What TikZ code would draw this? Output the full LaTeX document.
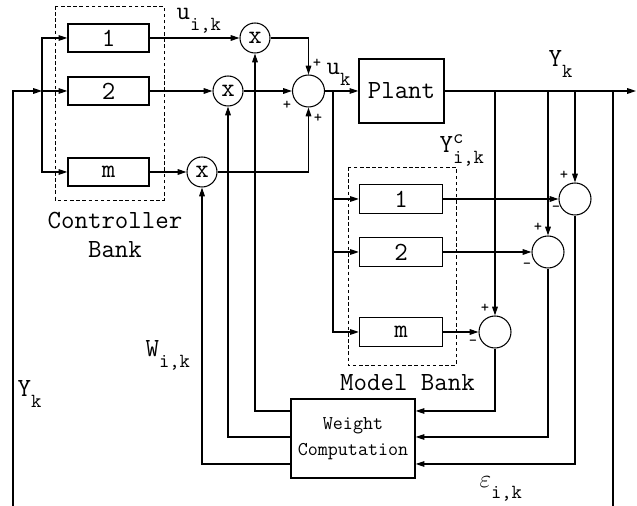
\documentclass[tikz,border=0pt]{standalone}
\usepackage{fontspec}
\usepackage{tikz}
\usetikzlibrary{arrows.meta}

\newcommand{\lbsub}[2]{#1\raisebox{-6pt}{\fontsize{11.4}{11.4}\selectfont #2}}
\newcommand{\lbsupsub}[3]{#1\rlap{\raisebox{5.5pt}{\fontsize{11.4}{11.4}\selectfont #2}}\raisebox{-6pt}{\fontsize{11.4}{11.4}\selectfont #3}}

\begin{document}
\begin{tikzpicture}[x=0.02cm, y=-0.02cm, line width=0.6pt,
    >={Triangle[length=5pt,width=3.2pt]},
    font=\ttfamily\fontsize{14.9}{16.7}\selectfont,
    blk/.style={draw, line width=0.8pt, inner sep=0pt},
    ctrl/.style={blk, minimum width=1.62cm, minimum height=0.56cm},
    model/.style={blk, minimum width=1.66cm, minimum height=0.58cm},
    mult/.style={draw, circle, minimum size=0.6cm, inner sep=0pt},
    summ/.style={draw, circle, minimum size=0.64cm, inner sep=0pt},
    bank/.style={draw, line width=0.5pt, dash pattern=on 2pt off 1.5pt},
    sgn/.style={inner sep=0pt, font=\ttfamily\fontsize{9}{9}\selectfont},
    lbl/.style={inner sep=0pt, anchor=base west}]

    \useasboundingbox (0,0) rectangle (637,506);

    % controller bank
    \draw[bank] (55,6) rectangle (164,200);
    \node[ctrl] (c1) at (108.5,38) {1};
    \node[ctrl] (c2) at (108.5,91) {2};
    \node[ctrl] (cm) at (108.5,172) {m};
    \node[align=center] (cbank) at (115,235) {Controller\\Bank};

    \node[mult] (m1) at (255,38) {x};
    \node[mult] (m2) at (228,91) {x};
    \node[mult] (mm) at (202,172) {x};
    \node[summ] (sum) at (308.5,91) {};
    \node[blk, minimum width=1.7cm, minimum height=1.28cm] (plant) at (401.5,91) {Plant};

    % model bank
    \draw[bank] (348,167) rectangle (456,365);
    \node[model] (p1) at (401,199) {1};
    \node[model] (p2) at (401,252) {2};
    \node[model] (pm) at (401,332) {m};
    \node (mbank) at (407.5,383) {Model Bank};

    \node[summ] (q1) at (575,199) {};
    \node[summ] (q2) at (548,252) {};
    \node[summ] (qm) at (495,332) {};

    \node[blk, minimum width=2.48cm, minimum height=1.58cm, align=center,
          font=\ttfamily\fontsize{11.1}{14.7}\selectfont] (wc) at (353,438.5) {Weight\\Computation};

    \coordinate (inbot) at (13,506);
    \coordinate (cj) at (42,91);
    \coordinate (mj) at (333,91);
    \coordinate (t1) at (495,91);
    \coordinate (t2) at (548,91);
    \coordinate (t3) at (575,91);
    \coordinate (t4) at (613,91);
    \coordinate (rbot) at (613,506);
    \coordinate (yout) at (636,91);

    \draw[->] (inbot) |- (cj);
    \draw[->] (cj) -- (c2);
    \draw[->] (cj) |- (c1);
    \draw[->] (cj) |- (cm);
    \draw[->] (c1) -- (m1);
    \draw[->] (c2) -- (m2);
    \draw[->] (cm) -- (mm);
    \draw[->] (m1) -| (sum);
    \draw[->] (m2) -- (sum);
    \draw[->] (mm) -| (sum);
    \draw[->] (sum) -- (plant);
    \draw[->] (plant) -- (yout);
    \draw (t4) -- (rbot);

    \draw[->] (mj) |- (p1);
    \draw[->] (mj) |- (p2);
    \draw[->] (mj) |- (pm);
    \draw[->] (p1) -- (q1);
    \draw[->] (p2) -- (q2);
    \draw[->] (pm) -- (qm);
    \draw[->] (t1) -- (qm);
    \draw[->] (t2) -- (q2);
    \draw[->] (t3) -- (q1);

    \draw[->] (qm) |- (wc.east |- 0,411);
    \draw[->] (q2) |- (wc.east |- 0,437);
    \draw[->] (q1) |- (wc.east |- 0,464);
    \draw[->] (wc.west |- 0,411) -| (m1);
    \draw[->] (wc.west |- 0,437) -| (m2);
    \draw[->] (wc.west |- 0,464) -| (mm);

    % signs
    \node[sgn] (s1) at (317,63) {+};
    \node[sgn] (s2) at (287,105) {+};
    \node[sgn] (s3) at (318,118) {+};
    \node[sgn] (s4) at (564,175) {+};
    \node[sgn] (s5) at (556,209) {-};
    \node[sgn] (s6) at (538,227) {+};
    \node[sgn] (s7) at (527,266) {-};
    \node[sgn] (s8) at (485,308) {+};
    \node[sgn] (s9) at (473,343) {-};

    % signal names
    \node[lbl] (uik) at (176,20) {\lbsub{u}{i,k}};
    \node[lbl] (uk) at (326,75) {\lbsub{u}{k}};
    \node[lbl] (yk) at (548,67) {\lbsub{Y}{k}};
    \node[lbl] (ycik) at (439,153) {\lbsupsub{Y}{c}{i,k}};
    \node[lbl] (wik) at (145,357) {\lbsub{W}{i,k}};
    \node[lbl] (ykl) at (17,397) {\lbsub{Y}{k}};
    \node[lbl] (eik) at (479,488) {\lbsub{$\varepsilon$}{i,k}};
\end{tikzpicture}
\end{document}
